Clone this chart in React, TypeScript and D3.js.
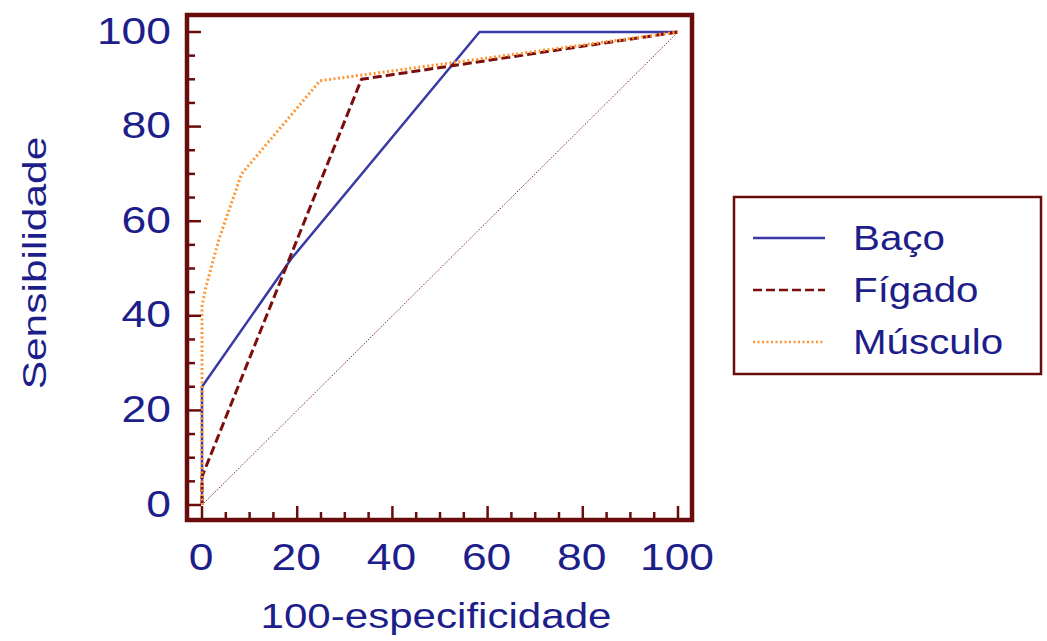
import * as React from 'react'
import * as d3 from 'd3'

// ROC curves: x = 100-especificidade, y = sensibilidade
const bacoX = [0, 0, 18.8, 58.3, 100]
const bacoY = [0, 25, 52.1, 100, 100]
const figadoX = [0, 0, 33.5, 100]
const figadoY = [0, 6, 90, 100]
const musculoX = [0, 0, 0.8, 3.5, 8.3, 24.8, 100]
const musculoY = [0, 42, 46, 56, 70, 89.7, 100]
const diagX = [0, 100]
const diagY = [0, 100]

const seriesNames = ['Baço', 'Fígado', 'Músculo']
const tickValues = [0, 20, 40, 60, 80, 100]
const xTitle = '100-especificidade'
const yTitle = 'Sensibilidade'

const W = 1047
const H = 641
const FONT = '"Liberation Sans", Arial, sans-serif'
const TEXT = '#1e1e8a'
const FRAME = '#6a0c0c'

const styles = [
  { color: '#3a3aa6', width: 2.5, dash: null as string | null },
  { color: '#7d0e0e', width: 3, dash: '9,4' },
  { color: '#ff9530', width: 3, dash: '2,2.5' },
]

// text in the source is wider than Arial, so stretch it along its run
function Label({ x, y, size, sx = 1.2, anchor = 'start', baseline = 'auto', rotate = 0, children }: any) {
  return (
    <g transform={`translate(${x},${y}) rotate(${rotate}) scale(${sx},1)`}>
      <text
        fontFamily={FONT}
        fontSize={size}
        fill={TEXT}
        textAnchor={anchor}
        dominantBaseline={baseline}
      >
        {children}
      </text>
    </g>
  )
}

export default function App() {
  const x = d3.scaleLinear().domain([0, 100]).range([202, 678])
  const y = d3.scaleLinear().domain([0, 100]).range([505, 32])

  const frame = { left: 187, right: 692, top: 15, bottom: 520 }

  const line = (xs: number[], ys: number[]) =>
    d3.line<number>()
      .x((_, i) => x(xs[i]))
      .y((_, i) => y(ys[i]))(xs.map((_, i) => i)) || ''

  const series = [
    [bacoX, bacoY],
    [figadoX, figadoY],
    [musculoX, musculoY],
  ]

  const minor = d3.range(0, 101, 5)

  return (
    <svg width={W} height={H} style={{ position: 'absolute', left: 0, top: 0, background: '#fff' }}>
      <rect width={W} height={H} fill="#fff" />

      {/* diagonal reference */}
      <path d={line(diagX, diagY)} fill="none" stroke="#8a3030" strokeWidth={1} strokeDasharray="1.5,1.5" />

      {series.map(([xs, ys], i) => (
        <path
          key={seriesNames[i]}
          d={line(xs, ys)}
          fill="none"
          stroke={styles[i].color}
          strokeWidth={styles[i].width}
          strokeDasharray={styles[i].dash ?? undefined}
          strokeLinejoin="round"
        />
      ))}

      {/* frame */}
      <rect
        x={frame.left}
        y={frame.top}
        width={frame.right - frame.left}
        height={frame.bottom - frame.top}
        fill="none"
        stroke={FRAME}
        strokeWidth={4.5}
      />

      {/* inner ticks */}
      {minor.map(v => {
        const major = v % 20 === 0
        return (
          <g key={'t' + v}>
            <line x1={frame.left} x2={frame.left + (major ? 14 : 8)} y1={y(v)} y2={y(v)} stroke={FRAME} strokeWidth={2.5} />
            <line x1={x(v)} x2={x(v)} y1={frame.bottom} y2={frame.bottom - (major ? 14 : 8)} stroke={FRAME} strokeWidth={2.5} />
          </g>
        )
      })}

      {/* tick labels */}
      {tickValues.map(v => (
        <Label key={'yl' + v} x={171} y={y(v) - 1} size={37} sx={1.2} anchor="end" baseline="central">{v}</Label>
      ))}
      {tickValues.map(v => (
        <Label key={'xl' + v} x={x(v) - 1} y={570} size={37} sx={1.2} anchor="middle">{v}</Label>
      ))}

      <Label x={436} y={628} size={36} sx={1.17} anchor="middle">{xTitle}</Label>
      <Label x={46} y={263} size={34} sx={1.25} anchor="middle" rotate={-90}>{yTitle}</Label>

      {/* legend */}
      <rect x={734} y={197} width={307} height={177} fill="#fff" stroke={FRAME} strokeWidth={2.5} />
      {seriesNames.map((name, i) => {
        const ly = 238 + i * 52
        return (
          <g key={'lg' + name}>
            <line
              x1={753}
              x2={825}
              y1={ly}
              y2={ly}
              stroke={styles[i].color}
              strokeWidth={2.5}
              strokeDasharray={styles[i].dash ?? undefined}
            />
            <Label x={853} y={ly + 12} size={36} sx={1.12} baseline="auto">{name}</Label>
          </g>
        )
      })}
    </svg>
  )
}
